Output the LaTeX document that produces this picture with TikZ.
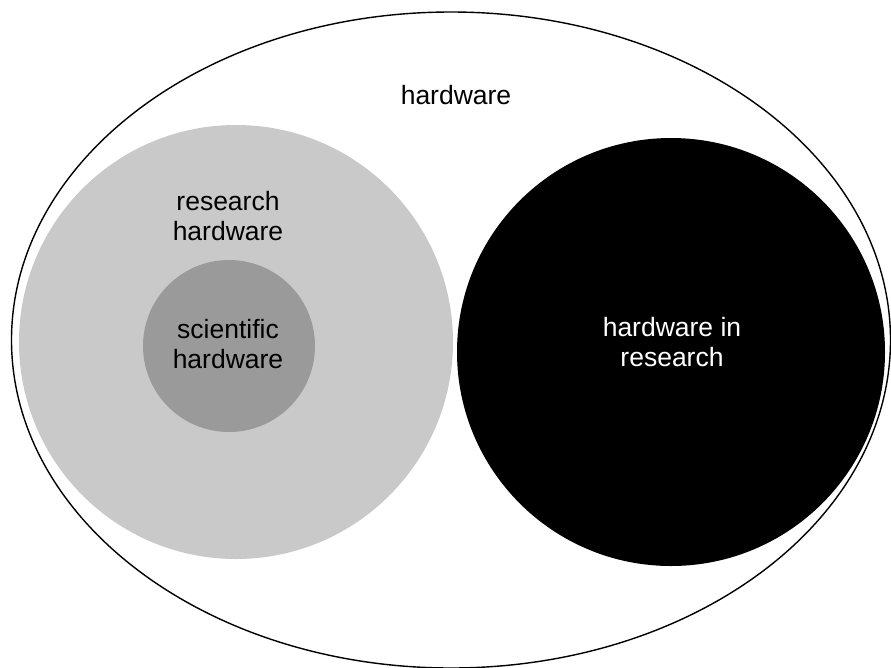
\documentclass[tikz,border=0pt]{standalone}
\usepackage{fontspec}
\setmainfont{Liberation Sans}
\usetikzlibrary{shapes.geometric, positioning}
\definecolor{reslight}{HTML}{C9C9C9}
\definecolor{scidark}{HTML}{9A9A9A}
\tikzset{
  x=1pt, y=-1pt,
  every node/.style={font=\fontsize{26.5}{30}\selectfont, align=center},
  set/.style={circle, inner sep=0pt},
}

\begin{document}
\begin{tikzpicture}
      \useasboundingbox (0,0) rectangle (891,667);
      \node[ellipse, draw, line width=1.4pt, minimum width=879, minimum height=656] (all) at (451,340) {};
      \node[set, fill=reslight, minimum size=434] (reshw) at (236,342) {};
      \node[set, fill=scidark, minimum size=172] (scihw) at (229,346) {};
      \node[set, fill=black, minimum size=428] (hwinres) at (671,352) {};

      \node (hwlabel)     at (456,95)  {hardware};
      \node (reslabel)    at (228,216) {research\\hardware};
      \node (scilabel)    at (228,344) {scientific\\hardware};
      \node[text=white] (inreslabel) at (672,342) {hardware in\\research};
    \end{tikzpicture}
\end{document}
